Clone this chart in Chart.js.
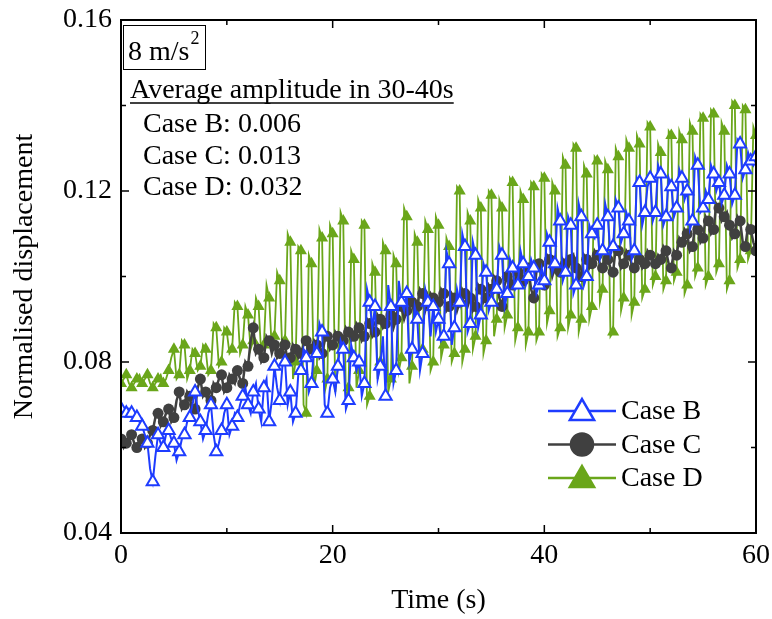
<!DOCTYPE html>
<html>
<head>
<meta charset="utf-8">
<script src="https://cdn.jsdelivr.net/npm/chart.js@4.4.1/dist/chart.umd.min.js"></script>
<style>
  body { margin: 0; background: #fff; }
  canvas { display: block; }
</style>
</head>
<body>
<canvas id="myChart" width="772" height="619"></canvas>
<script>
// marker samples every 0.5 s (0 -> 60 s); the *Mid arrays hold the
// samples that fall between them (0.25, 0.75, ...), drawn as line only
const step = 0.5;

const caseB = [
  0.069, 0.068, 0.068, 0.067, 0.065, 0.061, 0.052, 0.063, 0.060, 0.064,
  0.061, 0.059, 0.063, 0.067, 0.073, 0.066, 0.064, 0.070, 0.059, 0.064,
  0.070, 0.065, 0.067, 0.072, 0.070, 0.073, 0.069, 0.074, 0.066, 0.079,
  0.071, 0.080, 0.073, 0.068, 0.078, 0.081, 0.075, 0.082, 0.087, 0.068,
  0.076, 0.079, 0.083, 0.071, 0.081, 0.080, 0.075, 0.094, 0.093, 0.079,
  0.072, 0.093, 0.078, 0.094, 0.096, 0.083, 0.090, 0.082, 0.094, 0.093,
  0.090, 0.086, 0.103, 0.088, 0.094, 0.107, 0.089, 0.105, 0.091, 0.101,
  0.094, 0.097, 0.105, 0.096, 0.102, 0.098, 0.103, 0.100, 0.102, 0.098,
  0.099, 0.108, 0.103, 0.113, 0.101, 0.112, 0.098, 0.114, 0.100, 0.110,
  0.112, 0.106, 0.114, 0.107, 0.116, 0.110, 0.113, 0.106, 0.122, 0.115,
  0.123, 0.115, 0.124, 0.114, 0.121, 0.116, 0.123, 0.120, 0.113, 0.126,
  0.116, 0.118, 0.124, 0.122, 0.119, 0.124, 0.119, 0.131, 0.125, 0.127,
  0.128
];
const caseBMid = [
  0.068, 0.069, 0.067, 0.066, 0.063, 0.055, 0.058, 0.061, 0.063, 0.062,
  0.057, 0.062, 0.066, 0.070, 0.069, 0.062, 0.068, 0.063, 0.061, 0.068,
  0.063, 0.068, 0.070, 0.074, 0.068, 0.075, 0.066, 0.076, 0.071, 0.074,
  0.079, 0.070, 0.066, 0.077, 0.083, 0.073, 0.084, 0.089, 0.070, 0.074,
  0.073, 0.085, 0.069, 0.084, 0.078, 0.072, 0.097, 0.088, 0.076, 0.086,
  0.098, 0.075, 0.099, 0.092, 0.080, 0.093, 0.078, 0.097, 0.086, 0.087,
  0.085, 0.106, 0.084, 0.097, 0.110, 0.087, 0.108, 0.088, 0.103, 0.092,
  0.099, 0.107, 0.093, 0.104, 0.097, 0.106, 0.098, 0.104, 0.096, 0.102,
  0.110, 0.101, 0.116, 0.099, 0.114, 0.096, 0.117, 0.098, 0.112, 0.109,
  0.104, 0.117, 0.105, 0.118, 0.108, 0.115, 0.104, 0.123, 0.112, 0.121,
  0.113, 0.126, 0.112, 0.123, 0.114, 0.125, 0.118, 0.111, 0.128, 0.115,
  0.120, 0.126, 0.120, 0.117, 0.126, 0.117, 0.132, 0.123, 0.129, 0.126
];

const caseC = [
  0.062, 0.061, 0.063, 0.060, 0.062, 0.061, 0.064, 0.068, 0.066, 0.069,
  0.067, 0.073, 0.070, 0.072, 0.069, 0.076, 0.073, 0.071, 0.074, 0.077,
  0.074, 0.076, 0.078, 0.075, 0.079, 0.088, 0.083, 0.081, 0.085, 0.084,
  0.082, 0.084, 0.081, 0.083, 0.082, 0.085, 0.083, 0.084, 0.082, 0.086,
  0.084, 0.086, 0.085, 0.087, 0.086, 0.088, 0.086, 0.089, 0.087, 0.090,
  0.089, 0.091, 0.090, 0.093, 0.092, 0.094, 0.093, 0.096, 0.094, 0.095,
  0.094, 0.096, 0.093, 0.095, 0.094, 0.096, 0.095, 0.093, 0.097, 0.095,
  0.097, 0.099, 0.093, 0.100, 0.098, 0.101, 0.099, 0.102, 0.095, 0.103,
  0.098, 0.104, 0.102, 0.101, 0.103, 0.104, 0.102, 0.100, 0.104, 0.103,
  0.105, 0.102, 0.104, 0.101, 0.106, 0.103, 0.105, 0.102, 0.104, 0.103,
  0.105, 0.103, 0.104, 0.106, 0.102, 0.105, 0.108, 0.110, 0.107, 0.111,
  0.109, 0.113, 0.111, 0.116, 0.114, 0.112, 0.110, 0.113, 0.107, 0.111,
  0.106
];
const caseCMid = [
  0.060, 0.063, 0.061, 0.062, 0.060, 0.063, 0.067, 0.065, 0.068, 0.066,
  0.071, 0.069, 0.073, 0.068, 0.074, 0.072, 0.070, 0.075, 0.076, 0.073,
  0.077, 0.075, 0.076, 0.080, 0.085, 0.082, 0.080, 0.086, 0.082, 0.081,
  0.085, 0.080, 0.084, 0.081, 0.084, 0.082, 0.085, 0.081, 0.085, 0.083,
  0.087, 0.084, 0.088, 0.085, 0.089, 0.085, 0.090, 0.086, 0.091, 0.088,
  0.092, 0.088, 0.094, 0.090, 0.095, 0.091, 0.097, 0.092, 0.096, 0.093,
  0.097, 0.092, 0.096, 0.092, 0.097, 0.093, 0.092, 0.098, 0.094, 0.098,
  0.100, 0.095, 0.098, 0.101, 0.099, 0.103, 0.100, 0.097, 0.101, 0.100,
  0.105, 0.100, 0.103, 0.104, 0.102, 0.105, 0.101, 0.105, 0.102, 0.106,
  0.103, 0.105, 0.102, 0.107, 0.102, 0.106, 0.103, 0.105, 0.102, 0.106,
  0.104, 0.105, 0.107, 0.103, 0.106, 0.109, 0.111, 0.106, 0.112, 0.108,
  0.114, 0.110, 0.117, 0.113, 0.115, 0.109, 0.114, 0.108, 0.112, 0.108
];

const caseD = [
  0.075, 0.077, 0.074, 0.076, 0.075, 0.077, 0.074, 0.076, 0.075, 0.078,
  0.083, 0.077, 0.084, 0.078, 0.082, 0.079, 0.083, 0.078, 0.088, 0.080,
  0.087, 0.083, 0.093, 0.084, 0.091, 0.085, 0.093, 0.084, 0.095, 0.086,
  0.099, 0.085, 0.108, 0.080, 0.106, 0.068, 0.103, 0.078, 0.109, 0.076,
  0.110, 0.079, 0.113, 0.074, 0.104, 0.078, 0.112, 0.072, 0.101, 0.080,
  0.106, 0.076, 0.103, 0.081, 0.114, 0.079, 0.108, 0.083, 0.111, 0.080,
  0.112, 0.084, 0.107, 0.082, 0.120, 0.083, 0.113, 0.086, 0.116, 0.085,
  0.119, 0.090, 0.116, 0.091, 0.122, 0.088, 0.118, 0.087, 0.121, 0.087,
  0.123, 0.092, 0.120, 0.088, 0.126, 0.091, 0.130, 0.090, 0.124, 0.093,
  0.127, 0.097, 0.125, 0.087, 0.128, 0.095, 0.130, 0.094, 0.131, 0.097,
  0.135, 0.100, 0.129, 0.099, 0.133, 0.101, 0.132, 0.098, 0.134, 0.102,
  0.137, 0.100, 0.138, 0.103, 0.134, 0.099, 0.140, 0.104, 0.139, 0.106,
  0.133
];
const caseDMid = [
  0.076, 0.075, 0.075, 0.077, 0.076, 0.075, 0.075, 0.077, 0.076, 0.081,
  0.076, 0.085, 0.076, 0.083, 0.078, 0.084, 0.077, 0.089, 0.079, 0.088,
  0.082, 0.094, 0.082, 0.093, 0.083, 0.095, 0.082, 0.098, 0.083, 0.101,
  0.082, 0.110, 0.076, 0.107, 0.070, 0.105, 0.074, 0.111, 0.073, 0.112,
  0.073, 0.115, 0.071, 0.106, 0.074, 0.113, 0.070, 0.103, 0.076, 0.108,
  0.073, 0.105, 0.078, 0.116, 0.075, 0.110, 0.080, 0.113, 0.078, 0.114,
  0.081, 0.109, 0.080, 0.121, 0.080, 0.115, 0.083, 0.118, 0.082, 0.120,
  0.086, 0.118, 0.088, 0.123, 0.085, 0.120, 0.084, 0.122, 0.085, 0.124,
  0.089, 0.122, 0.086, 0.128, 0.088, 0.131, 0.087, 0.126, 0.090, 0.128,
  0.094, 0.127, 0.086, 0.130, 0.092, 0.132, 0.091, 0.133, 0.095, 0.136,
  0.098, 0.131, 0.097, 0.134, 0.099, 0.134, 0.096, 0.136, 0.100, 0.138,
  0.098, 0.139, 0.101, 0.136, 0.097, 0.141, 0.102, 0.140, 0.104, 0.135
];

const seriesNames = ["Case B", "Case C", "Case D"];
const amplitudes = ["0.006", "0.013", "0.032"];
const xTicks = [0, 20, 40, 60];
const xMinor = [10, 30, 50];
const yTicks = [0.04, 0.08, 0.12, 0.16];
const yMinor = [0.06, 0.10, 0.14];

// interleave marker samples with the in-between samples
function toPoints(main, mid) {
    const pts = [];
    main.forEach((v, i) => {
        pts.push({x: i * step, y: v, m: true});
        if (i < mid.length) pts.push({x: i * step + step / 2, y: mid[i], m: false});
    });
    return pts;
}
const markerSize = r => ctx => (ctx.raw && ctx.raw.m ? r : 0);

const blue = "#1e3cff";
const dark = "#404040";
const green = "#6aa61a";
const serif = "'Liberation Serif', 'Times New Roman', serif";

// frame, inward ticks, text box and legend
const decor = {
    id: "decor",
    afterDatasetsDraw(chart) {
        const {ctx, chartArea: a, scales: {x, y}} = chart;
        ctx.save();
        ctx.strokeStyle = "#000";
        ctx.lineWidth = 2;
        ctx.strokeRect(a.left, a.top, a.right - a.left, a.bottom - a.top);

        ctx.lineWidth = 1.5;
        ctx.beginPath();
        xTicks.concat(xMinor).forEach(v => {
            const len = xTicks.includes(v) ? 8 : 5;
            const px = x.getPixelForValue(v);
            ctx.moveTo(px, a.bottom); ctx.lineTo(px, a.bottom - len);
            ctx.moveTo(px, a.top); ctx.lineTo(px, a.top + len);
        });
        yTicks.concat(yMinor).forEach(v => {
            const len = yTicks.includes(v) ? 8 : 5;
            const py = y.getPixelForValue(v);
            ctx.moveTo(a.left, py); ctx.lineTo(a.left + len, py);
            ctx.moveTo(a.right, py); ctx.lineTo(a.right - len, py);
        });
        ctx.stroke();

        // acceleration box
        ctx.fillStyle = "#000";
        ctx.lineWidth = 1;
        ctx.strokeRect(a.left + 2.5, a.top + 5.5, 82, 44);
        ctx.font = "28px " + serif;
        ctx.textBaseline = "alphabetic";
        ctx.textAlign = "left";
        ctx.fillText("8 m/s", a.left + 7, a.top + 40);
        const w = ctx.measureText("8 m/s").width;
        ctx.font = "18px " + serif;
        ctx.fillText("2", a.left + 7 + w + 1, a.top + 24);

        // amplitude notes
        ctx.font = "28px " + serif;
        const head = "Average amplitude in 30-40s";
        ctx.fillText(head, a.left + 9, a.top + 78);
        const hw = ctx.measureText(head).width;
        ctx.lineWidth = 1.5;
        ctx.beginPath();
        ctx.moveTo(a.left + 9, a.top + 83);
        ctx.lineTo(a.left + 9 + hw, a.top + 83);
        ctx.stroke();
        seriesNames.forEach((n, i) => {
            ctx.fillText(n + ": " + amplitudes[i], a.left + 22, a.top + 112 + i * 31.5);
        });

        // legend
        chart.data.datasets.forEach((ds, i) => {
            const ly = 411 + i * 33.5;
            ctx.strokeStyle = ds.borderColor;
            ctx.lineWidth = 2.5;
            ctx.beginPath();
            ctx.moveTo(548, ly); ctx.lineTo(616, ly);
            ctx.stroke();
            ctx.fillStyle = ds.pointBackgroundColor;
            ctx.strokeStyle = ds.borderColor;
            Chart.helpers.drawPoint(ctx, {
                pointStyle: ds.pointStyle,
                radius: ds.pointStyle === "circle" ? 11 : 14,
                borderWidth: 2.5,
                rotation: 0
            }, 582, ds.pointStyle === "circle" ? ly : ly + 2);
            ctx.fillStyle = "#000";
            ctx.font = "28px " + serif;
            ctx.textBaseline = "middle";
            ctx.fillText(ds.label, 621, ly + 1);
        });
        ctx.restore();
    }
};

new Chart("myChart", {
    type: "line",
    data: {
        datasets: [
            {
                label: seriesNames[0],
                data: toPoints(caseB, caseBMid),
                borderColor: blue,
                borderWidth: 2,
                pointStyle: "triangle",
                pointRadius: markerSize(7),
                pointBorderWidth: 2,
                pointBackgroundColor: "#fff",
                pointBorderColor: blue
            },
            {
                label: seriesNames[1],
                data: toPoints(caseC, caseCMid),
                borderColor: dark,
                borderWidth: 2.5,
                pointStyle: "circle",
                pointRadius: markerSize(5.5),
                pointBorderWidth: 0,
                pointBackgroundColor: dark,
                pointBorderColor: dark
            },
            {
                label: seriesNames[2],
                data: toPoints(caseD, caseDMid),
                borderColor: green,
                borderWidth: 1.8,
                pointStyle: "triangle",
                pointRadius: markerSize(7),
                pointBorderWidth: 0,
                pointBackgroundColor: green,
                pointBorderColor: green
            }
        ]
    },
    options: {
        responsive: false,
        animation: false,
        devicePixelRatio: 1,
        layout: {padding: {left: 0, right: 16, top: 20, bottom: 0}},
        plugins: {legend: {display: false}, tooltip: {enabled: false}},
        scales: {
            x: {
                type: "linear",
                min: 0,
                max: 60,
                grid: {display: false, drawTicks: false},
                border: {display: false},
                ticks: {stepSize: 20, padding: 6, color: "#000", font: {family: serif, size: 28}},
                title: {display: true, text: "Time (s)", color: "#000", padding: {top: 0, bottom: 2}, font: {family: serif, size: 28}},
                afterFit: s => {
                    s.height = 86;
                    s.paddingLeft = 0; s.paddingRight = 0;
                }
            },
            y: {
                min: 0.04,
                max: 0.16,
                grid: {display: false, drawTicks: false},
                border: {display: false},
                ticks: {stepSize: 0.04, padding: 9, color: "#000", font: {family: serif, size: 28},
                        callback: v => v.toFixed(2)},
                title: {display: true, text: "Normalised displacement", color: "#000", padding: {top: 8, bottom: 0}, font: {family: serif, size: 28}},
                afterFit: s => {
                    s.width = 121;
                    s.paddingTop = 0; s.paddingBottom = 0;
                }
            }
        }
    },
    plugins: [decor]
});
</script>
</body>
</html>
